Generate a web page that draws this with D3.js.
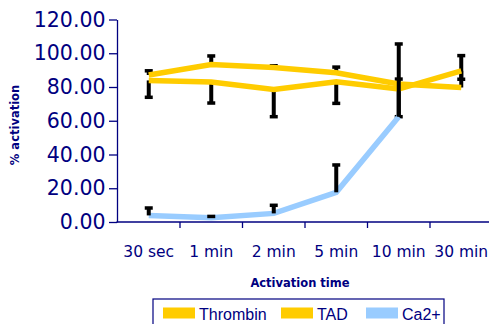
<!DOCTYPE html>
<html>
<head>
<meta charset="utf-8">
<script src="https://cdn.jsdelivr.net/npm/d3@7"></script>
<style>
  html, body { margin: 0; padding: 0; background: #ffffff; }
  svg { display: block; }
</style>
</head>
<body>
<svg id="chart" width="489" height="324"></svg>
<script>
// ---- data ----
const categories = ["30 sec", "1 min", "2 min", "5 min", "10 min", "30 min"];
const thrombin    = [87.1, 93.3, 91.6, 88.4, 81.8, 79.7];
const thrombinErr = [2.5, 5.1, 1.0, 3.4, 2.9, 18.9];     // plus direction
const tad         = [83.9, 83.0, 78.5, 83.1, 78.8, 89.6];
const tadErr      = [10.0, 12.5, 16.1, 12.8, 16.4, 5.0];  // minus direction
const ca          = [3.9, 2.5, 5.1, 17.6, 62.4, null];
const caErr       = [4.4, 0.8, 4.8, 16.2, 43.1, null];   // plus direction
const yTicks      = [0, 20, 40, 60, 80, 100, 120];
const legendNames = ["Thrombin", "TAD", "Ca2+"];

// ---- styles ----
const NAVY = "#000080";
const YELLOW = "#FFCC00";
const BLUE = "#99CCFF";

const svg = d3.select("#chart");
svg.append("rect").attr("width", 489).attr("height", 324).attr("fill", "#fff");

const x = d3.scaleBand().domain(categories).range([117.5, 492.5]).padding(0);
const y = d3.scaleLinear().domain([0, 120]).range([222, 19.5]);
const cx = c => x(c) + x.bandwidth() / 2;

// ---- error bars helper ----
function drawErr(g, vals, errs, dir) {
  categories.forEach((c, i) => {
    if (vals[i] == null || errs[i] == null) return;
    const v0 = vals[i];
    const v1 = v0 + dir * errs[i];
    const xx = cx(c);
    g.append("line")
      .attr("x1", xx).attr("x2", xx)
      .attr("y1", y(v0)).attr("y2", y(v1))
      .attr("stroke", "#000").attr("stroke-width", 4);
    g.append("line")
      .attr("x1", xx - 4).attr("x2", xx + 4)
      .attr("y1", y(v1)).attr("y2", y(v1))
      .attr("stroke", "#000").attr("stroke-width", 3.5);
  });
}

const line = d3.line()
  .defined(d => d.v != null)
  .x(d => cx(d.c))
  .y(d => y(d.v));
const toPts = arr => categories.map((c, i) => ({ c, v: arr[i] }));

const plot = svg.append("g");
// yellow series error bars (beneath lines)
drawErr(plot, thrombin, thrombinErr, +1);
drawErr(plot, tad, tadErr, -1);
// lines
plot.append("path").datum(toPts(thrombin)).attr("d", line)
  .attr("fill", "none").attr("stroke", YELLOW).attr("stroke-width", 5.5);
plot.append("path").datum(toPts(tad)).attr("d", line)
  .attr("fill", "none").attr("stroke", YELLOW).attr("stroke-width", 5.5);
plot.append("path").datum(toPts(ca)).attr("d", line)
  .attr("fill", "none").attr("stroke", BLUE).attr("stroke-width", 5.5);
// Ca2+ error bars on top
drawErr(plot, ca, caErr, +1);

// ---- axes ----
const yAxis = d3.axisLeft(y)
  .tickValues(yTicks)
  .tickFormat(d3.format(".2f"))
  .tickSize(8)
  .tickSizeOuter(0)
  .tickPadding(3.5);
const gy = svg.append("g").attr("transform", "translate(117,0)").call(yAxis);
gy.select(".domain").attr("stroke", NAVY).attr("stroke-width", 1.3);
gy.selectAll(".tick line").attr("stroke", NAVY).attr("stroke-width", 1.3);
gy.selectAll(".tick text")
  .attr("fill", NAVY)
  .style("font-family", "'DejaVu Sans', sans-serif")
  .style("font-size", "20.5px");

const xAxis = d3.axisBottom(x).tickSize(0).tickSizeOuter(0).tickPadding(24);
const gx = svg.append("g").attr("transform", `translate(0,${y(0)})`).call(xAxis);
gx.select(".domain").attr("stroke", NAVY).attr("stroke-width", 1.3)
  .attr("d", `M${x.range()[0] - 1},0H${x.range()[1]}`);
gx.selectAll(".tick text")
  .attr("fill", NAVY)
  .style("font-family", "'DejaVu Sans', sans-serif")
  .style("font-size", "15.5px");
// boundary ticks
const bounds = categories.map(c => x(c)).concat([x(categories[categories.length - 1]) + x.bandwidth()]);
gx.selectAll(".btick").data(bounds.slice(1)).enter().append("line")
  .attr("class", "btick")
  .attr("x1", d => d).attr("x2", d => d)
  .attr("y1", 0).attr("y2", 6)
  .attr("stroke", NAVY).attr("stroke-width", 1.3);

// ---- axis titles ----
svg.append("text")
  .attr("transform", "translate(19,125) rotate(-90)")
  .attr("text-anchor", "middle")
  .attr("fill", NAVY)
  .style("font-family", "'DejaVu Sans', sans-serif")
  .style("font-weight", "bold")
  .style("font-size", "11.5px")
  .text("% activation");

svg.append("text")
  .attr("x", 300).attr("y", 286.5)
  .attr("text-anchor", "middle")
  .attr("fill", NAVY)
  .style("font-family", "'DejaVu Sans', sans-serif")
  .style("font-weight", "bold")
  .style("font-size", "11.5px")
  .text("Activation time");

// ---- legend ----
const lg = svg.append("g");
lg.append("rect")
  .attr("x", 153).attr("y", 299).attr("width", 291).attr("height", 40)
  .attr("fill", "none").attr("stroke", NAVY).attr("stroke-width", 1.2);
const legendColors = [YELLOW, YELLOW, BLUE];
const legendX = [163, 281, 366];
legendNames.forEach((n, i) => {
  lg.append("rect")
    .attr("x", legendX[i]).attr("y", 307.5).attr("width", 32).attr("height", 11)
    .attr("fill", legendColors[i]);
  lg.append("text")
    .attr("x", legendX[i] + 36).attr("y", 320)
    .attr("fill", NAVY)
    .style("font-family", "'Liberation Sans', Arial, sans-serif")
    .style("font-size", "16px")
    .text(n);
});
</script>
</body>
</html>
